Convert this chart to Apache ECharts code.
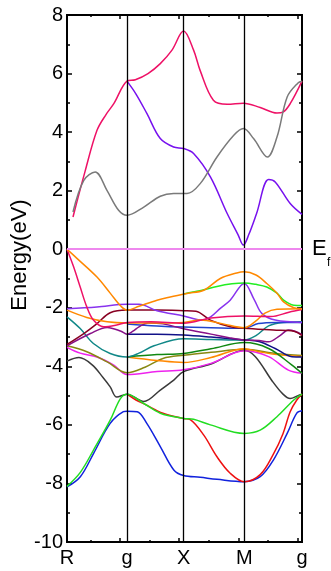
<!DOCTYPE html>
<html>
<head>
<meta charset="utf-8">
<script src="https://cdn.jsdelivr.net/npm/echarts@6/dist/echarts.min.js"></script>
<style>
  html, body { margin: 0; padding: 0; background: #fff; }
  #chart { width: 331px; height: 571px; }
</style>
</head>
<body>
<div id="chart"></div>
<script>
// k-path: high symmetry points and their labels
const kPoints = [0, 1.0, 1.943, 2.955, 3.917];
const kLabels = ['R', 'g', 'X', 'M', 'g'];
const kMajorTicks = [0.882, 1.869, 2.855, 3.842];
const kMinorTicks = [0.389, 1.375, 2.362, 3.349];

// bands, [k, E(eV)]
const pinkTop = [[0.1,1.1],[0.3,2.65],[0.5,4.06],[0.65,4.6],[0.78,4.97],[1.0,5.74],[1.14,5.79],[1.35,6.0],[1.555,6.34],[1.75,6.8],[1.943,7.45],[2.11,6.8],[2.22,6.1],[2.44,5.09],[2.67,4.95],[2.94,4.99],[3.22,4.84],[3.5,4.65],[3.6,4.68],[3.72,4.97],[3.917,5.74]];
const purpleTop = [[1.0,5.74],[1.15,5.3],[1.333,4.63],[1.555,3.78],[1.777,3.49],[1.943,3.44],[2.11,3.27],[2.39,2.47],[2.67,1.22],[2.85,0.5],[2.94,0.14],[3.03,0.5],[3.16,1.22],[3.36,2.38],[3.47,2.3],[3.72,1.56],[3.917,1.19]];
const grayTop = [[0.1,1.27],[0.28,2.35],[0.47,2.64],[0.666,2.01],[0.86,1.33],[1.0,1.16],[1.28,1.44],[1.555,1.81],[1.777,1.9],[2.0,1.9],[2.22,2.24],[2.5,3.15],[2.78,3.89],[2.94,4.12],[3.11,3.78],[3.34,3.15],[3.5,3.83],[3.67,5.2],[3.85,5.68],[3.917,5.74]];

const orangeD = [[0,0],[0.17,-0.32],[0.5,-0.95],[0.72,-1.5],[0.9,-1.95],[1.0,-2.08],[1.2,-1.95],[1.5,-1.74],[1.72,-1.63],[2.0,-1.51],[2.28,-1.4],[2.555,-1.0],[2.83,-0.81],[2.955,-0.77],[3.15,-0.88],[3.33,-1.17],[3.5,-1.5],[3.61,-1.8],[3.78,-2.0],[3.917,-2.04]];
const greenBright = [[1.943,-1.53],[2.1,-1.46],[2.25,-1.4],[2.5,-1.27],[2.75,-1.18],[2.955,-1.15],[3.15,-1.2],[3.33,-1.29],[3.5,-1.5],[3.61,-1.74],[3.78,-1.91],[3.917,-1.92]];
const pinkF = [[0,0],[0.11,-0.6],[0.22,-1.29],[0.33,-1.97],[0.44,-2.42],[0.61,-2.65],[0.83,-2.59],[1.0,-2.5],[1.4,-2.48],[1.943,-2.53],[2.4,-2.35],[2.955,-2.28],[3.4,-2.3],[3.7,-2.15],[3.917,-2.06]];
const orangeE = [[0,-2.08],[0.33,-2.33],[0.67,-2.48],[1.0,-2.52],[1.5,-2.52],[1.943,-2.5],[2.22,-2.42],[2.6,-2.55],[2.955,-2.68],[3.15,-2.45],[3.3,-2.18],[3.5,-2.05],[3.917,-2.03]];
const purpleG = [[0,-2.03],[0.5,-1.97],[1.0,-1.88],[1.2,-1.88],[1.5,-2.1],[1.943,-2.28],[2.25,-2.42],[2.4,-2.3],[2.555,-2.02],[2.72,-1.74],[2.955,-1.17],[3.12,-1.72],[3.25,-2.2],[3.47,-2.42],[3.917,-2.5]];
const maroonI = [[0,-3.25],[0.28,-2.88],[0.5,-2.54],[0.72,-2.17],[1.0,-2.08],[1.5,-2.08],[1.943,-2.1],[2.15,-2.12],[2.39,-2.42],[2.72,-2.65],[2.955,-2.7],[3.44,-2.76],[3.78,-2.8],[3.917,-2.95]];
const purpleJ = [[0,-3.3],[0.39,-2.88],[0.67,-2.67],[0.9,-2.8],[1.0,-2.9],[1.1,-2.8],[1.2,-2.65],[1.35,-2.52],[1.6,-2.55],[1.943,-2.72],[2.4,-2.9],[2.7,-3.02],[2.955,-3.1],[3.2,-3.12],[3.36,-3.16],[3.55,-2.95],[3.69,-2.76],[3.8,-2.8],[3.917,-2.92]];
const navyN = [[1.0,-2.9],[1.5,-2.9],[1.943,-2.93],[2.4,-3.0],[2.955,-3.1],[3.2,-3.15],[3.47,-3.39],[3.75,-3.67],[3.917,-3.68]];
const blueO = [[1.0,-2.55],[1.5,-2.62],[1.943,-2.66],[2.4,-2.68],[2.955,-2.7],[3.19,-2.54],[3.5,-2.5],[3.917,-2.5]];
const tealH = [[0,-2.31],[0.22,-2.71],[0.44,-3.22],[0.72,-3.56],[1.0,-3.68],[1.2,-3.55],[1.45,-3.3],[1.943,-3.06],[2.4,-3.08],[2.955,-3.1],[3.15,-2.95],[3.36,-2.62],[3.6,-2.5],[3.917,-2.48]];
const greenQ = [[1.0,-3.68],[1.5,-3.6],[1.943,-3.56],[2.4,-3.4],[2.955,-3.19],[3.36,-3.39],[3.75,-3.96],[3.917,-4.24]];
const orangeP = [[1.0,-3.68],[1.5,-3.8],[1.943,-3.87],[2.4,-3.7],[2.955,-3.4],[3.2,-3.5],[3.5,-3.6],[3.917,-3.66]];
const oliveK = [[0,-3.3],[0.33,-3.5],[0.67,-3.85],[1.0,-4.22],[1.3,-4.03],[1.6,-3.73],[1.943,-3.62],[2.4,-3.52],[2.955,-3.42],[3.47,-3.56],[3.917,-3.63]];
const blackM = [[0,-3.82],[0.2,-3.7],[0.42,-3.95],[0.6,-4.38],[0.72,-4.7],[0.83,-5.05],[1.0,-4.95],[1.28,-5.2],[1.555,-4.81],[1.78,-4.47],[1.943,-4.18],[2.4,-3.92],[2.955,-3.45],[3.14,-3.67],[3.42,-4.5],[3.6,-4.95],[3.72,-5.1],[3.85,-5.0],[3.917,-4.95]];
const magentaL = [[0,-3.35],[0.22,-3.55],[0.5,-3.68],[0.78,-3.96],[1.0,-4.28],[1.5,-4.18],[1.943,-4.12],[2.4,-3.9],[2.955,-3.47],[3.36,-3.67],[3.69,-4.13],[3.917,-4.24]];
const blueU = [[0,-8.12],[0.222,-7.77],[0.444,-6.97],[0.72,-5.95],[0.94,-5.55],[1.0,-5.53],[1.17,-5.55],[1.33,-5.95],[1.555,-6.74],[1.78,-7.54],[1.943,-7.73],[2.22,-7.79],[2.5,-7.86],[2.955,-7.94],[3.22,-7.77],[3.44,-7.2],[3.67,-6.29],[3.83,-5.6],[3.917,-5.52]];
const redV = [[1.0,-4.95],[1.15,-5.15],[1.3,-5.3],[1.6,-5.6],[1.943,-5.78],[2.055,-5.82],[2.28,-6.35],[2.5,-7.09],[2.72,-7.65],[2.955,-7.94],[3.22,-7.7],[3.44,-7.0],[3.6,-6.3],[3.72,-5.55],[3.83,-5.15],[3.917,-4.95]];
const greenS = [[0,-8.1],[0.222,-7.62],[0.444,-6.85],[0.72,-5.84],[0.89,-5.1],[1.0,-4.95],[1.28,-5.27],[1.555,-5.6],[1.943,-5.78],[2.11,-5.81],[2.39,-6.0],[2.955,-6.29],[3.22,-6.18],[3.5,-5.72],[3.78,-5.15],[3.917,-4.95]];

// drawing order: first is lowest
const bands = [
  [purpleTop, '#7711ee'], [pinkTop, '#ee1166'], [grayTop, '#7a7a7a'],
  [blackM, '#3a3a3a'], [magentaL, '#ee22ee'], [oliveK, '#888811'],
  [orangeP, '#ff8800'], [greenQ, '#118811'], [tealH, '#118888'],
  [navyN, '#111188'], [blueO, '#2244cc'], [purpleJ, '#881188'],
  [maroonI, '#880022'], [purpleG, '#8833ee'], [orangeE, '#ff8800'],
  [pinkF, '#ee1166'], [greenBright, '#22ee22'], [orangeD, '#ff8800'],
  [blueU, '#1122dd'], [redV, '#ee1111'], [greenS, '#22dd22']
];

const chart = echarts.init(document.getElementById('chart'));
const font = 'Liberation Sans, Arial, Helvetica, sans-serif';

function xAxisDef(pos, ticks, len, labels) {
  return {
    type: 'value', position: pos, min: 0, max: kPoints[4],
    axisLine: { show: true, onZero: false, lineStyle: { color: '#000', width: 2 } },
    axisTick: { show: true, inside: true, length: len, customValues: ticks, lineStyle: { color: '#000', width: 1.5 } },
    axisLabel: labels ? {
      show: true, customValues: kPoints, margin: 6, color: '#000', fontSize: 20, fontFamily: font,
      showMinLabel: true, showMaxLabel: true,
      formatter: v => { const i = kPoints.findIndex(p => Math.abs(p - v) < 1e-6); return i >= 0 ? kLabels[i] : ''; }
    } : { show: false },
    splitLine: { show: false }
  };
}

function yAxisDef(pos, labels) {
  return {
    type: 'value', position: pos, min: -10, max: 8, interval: 2,
    axisLine: { show: true, onZero: false, lineStyle: { color: '#000', width: 2 } },
    axisTick: { show: true, inside: true, length: 5, lineStyle: { color: '#000', width: 1.5 } },
    minorTick: { show: true, splitNumber: 2, length: 3, lineStyle: { color: '#000', width: 1.5 } },
    axisLabel: { show: labels, margin: 4, color: '#000', fontSize: 20, fontFamily: font },
    splitLine: { show: false }
  };
}

const series = bands.map(([data, color]) => ({
  type: 'line', data, smooth: 0.35, symbol: 'none', xAxisIndex: 0, yAxisIndex: 0,
  lineStyle: { color, width: 1.5 }, silent: true, z: 3
}));

// vertical symmetry lines and the Fermi level
series.unshift({
  type: 'line', data: [], xAxisIndex: 0, yAxisIndex: 0, z: 2,
  markLine: {
    silent: true, symbol: ['none', 'none'], label: { show: false },
    data: [
      { xAxis: kPoints[1], lineStyle: { color: '#000', width: 1.3, type: 'solid' } },
      { xAxis: kPoints[2], lineStyle: { color: '#000', width: 1.3, type: 'solid' } },
      { xAxis: kPoints[3], lineStyle: { color: '#000', width: 1.3, type: 'solid' } },
      { yAxis: 0, lineStyle: { color: '#ee88ee', width: 1.8, type: 'solid' } }
    ]
  }
});

chart.setOption({
  animation: false,
  backgroundColor: '#fff',
  grid: { left: 67, right: 29, top: 15, bottom: 29 },
  xAxis: [
    xAxisDef('bottom', kMajorTicks, 4, true),
    xAxisDef('bottom', kMinorTicks, 2, false),
    xAxisDef('top', kMajorTicks, 4, false),
    xAxisDef('top', kMinorTicks, 2, false)
  ],
  yAxis: [yAxisDef('left', true), yAxisDef('right', false)],
  graphic: [
    { type: 'text', x: 20, y: 255, rotation: Math.PI / 2,
      style: { text: 'Energy(eV)', fill: '#000', font: '22px ' + font, align: 'center', verticalAlign: 'middle' } },
    { type: 'text', x: 312, y: 249,
      style: { text: 'E', fill: '#000', font: '22px ' + font, align: 'left', verticalAlign: 'middle' } },
    { type: 'text', x: 327, y: 263,
      style: { text: 'f', fill: '#000', font: '12px ' + font, align: 'left', verticalAlign: 'middle' } }
  ],
  series
});
</script>
</body>
</html>
